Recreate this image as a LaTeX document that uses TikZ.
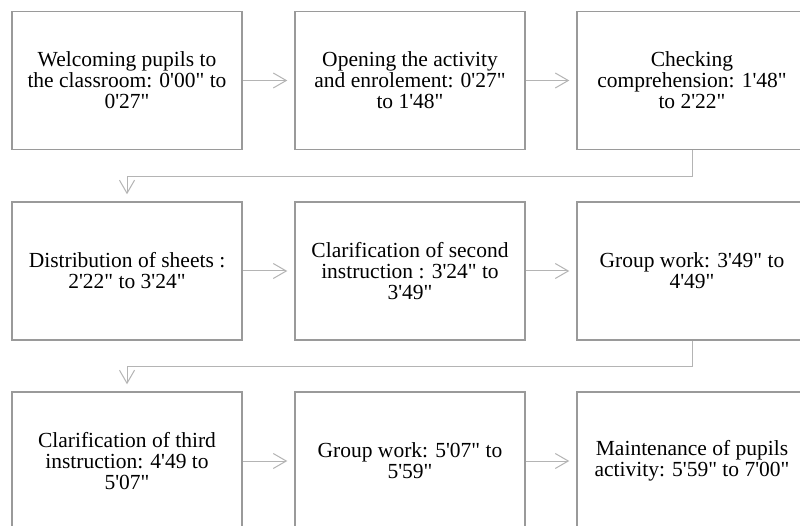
\documentclass[tikz,border=0pt]{standalone}
\usepackage{fontspec}
\usepackage{tikz}
\usetikzlibrary{arrows.meta}
\newfontfamily\stagefont{Liberation Serif}
\definecolor{boxgray}{HTML}{9A9A9A}
\definecolor{linkgray}{HTML}{B4B4B4}
\tikzset{
  stage/.style={draw=boxgray, line width=1.5pt, fill=white,
    minimum width=230pt, minimum height=138pt, inner sep=0pt,
    align=center, font=\stagefont\fontsize{21.5}{21}\selectfont},
  link/.style={draw=linkgray, line width=1pt, ->, shorten >=7pt}
}

\begin{document}
\begin{tikzpicture}[x=1pt, y=-1pt, >={Straight Barb[length=13pt, width=15pt]}]
\clip (0,0) rectangle (800,526);
\fill[white] (0,0) rectangle (800,526);

% First row
\node[stage] (welcome) at (127,80.5) {Welcoming pupils to\\the classroom: 0'00" to\\0'27"};
\node[stage] (opening) at (410,80.5) {Opening the activity\\and enrolement: 0'27"\\to 1'48"};
\node[stage] (checking) at (692,80.5) {Checking\\comprehension: 1'48"\\to 2'22"};

% Second row
\node[stage] (sheets) at (127,271) {Distribution of sheets :\\2'22" to 3'24"};
\node[stage] (second) at (410,271) {Clarification of second\\instruction : 3'24" to\\3'49"};
\node[stage] (group1) at (692,271) {Group work: 3'49" to\\4'49"};

% Third row
\node[stage] (third) at (127,461) {Clarification of third\\instruction: 4'49 to\\5'07"};
\node[stage] (group2) at (410,461) {Group work: 5'07" to\\5'59"};
\node[stage] (keep) at (692,461) {Maintenance of pupils\\activity: 5'59" to 7'00"};

% Links
\draw[link] (welcome) -- (opening);
\draw[link] (opening) -- (checking);
\draw[link] (checking.south) -- ++(0,26) -| (sheets.north);
\draw[link] (sheets) -- (second);
\draw[link] (second) -- (group1);
\draw[link] (group1.south) -- ++(0,26) -| (third.north);
\draw[link] (third) -- (group2);
\draw[link] (group2) -- (keep);
\end{tikzpicture}
\end{document}
